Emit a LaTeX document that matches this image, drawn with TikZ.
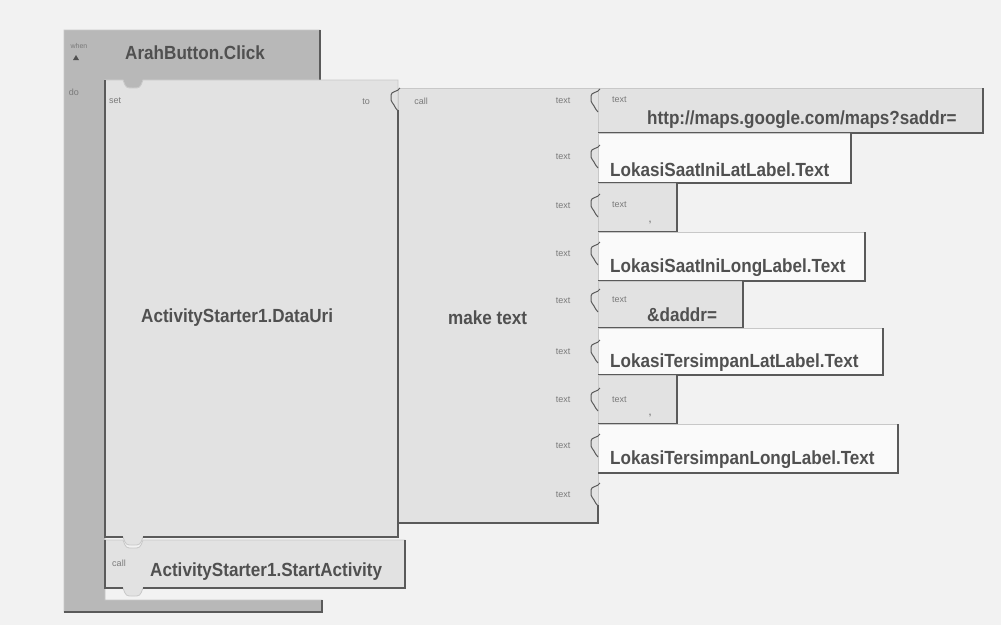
\documentclass[tikz,border=0pt]{standalone}
\usepackage{fontspec}
\setmainfont{Liberation Sans}
\newfontfamily\blockfont[FakeStretch=0.9]{Liberation Sans}
\usetikzlibrary{positioning}
\definecolor{bggray}{HTML}{F2F2F2}
\definecolor{evgray}{HTML}{B8B8B8}
\definecolor{blkgray}{HTML}{E2E2E2}
\definecolor{compwhite}{HTML}{FAFAFA}
\definecolor{edgedark}{HTML}{5A5A5A}
\definecolor{edgelight}{HTML}{C8C8C8}
\definecolor{txtgray}{HTML}{505050}
\definecolor{txtlight}{HTML}{7A7A7A}
\begin{document}
\begin{tikzpicture}[
    x=1pt, y=-1pt,
    every node/.style={inner sep=0pt},
    tiny/.style={font=\fontsize{9}{10}\selectfont, text=txtlight},
    big/.style={font=\blockfont\bfseries\fontsize{19}{20}\selectfont, text=txtgray, anchor=west},
    blk/.style={fill=blkgray, draw=edgelight, line width=0.8pt},
    comp/.style={fill=compwhite, draw=edgelight, line width=0.8pt},
    shadow/.style={draw=edgedark, line width=1.6pt},
    plug/.pic={\draw[edgedark, line width=1pt]
        (2,-12) .. controls (0,-8) and (-7,-9) .. (-7,-5) -- (-7,0)
        .. controls (-7,3) and (-4,3) .. (-4,5)
        .. controls (-4,8) and (-1,8) .. (0,11);},
]
\useasboundingbox (0,0) rectangle (1001,625);
\fill[bggray] (0,0) rectangle (1001,625);
% the event block round everything
\draw[fill=evgray, draw=edgelight, line width=0.8pt]
    (64,30) -- (320,30) -- (320,80) -- (143,80)
    .. controls (140,88) .. (133,88) .. controls (126,88) .. (123,80)
    -- (105,80) -- (105,600) -- (322,600) -- (322,612) -- (64,612) -- cycle;
\draw[shadow] (320,30) -- (320,80);
\draw[shadow] (64,612) -- (322,612) -- (322,600);
\node[tiny, font=\fontsize{7}{8}\selectfont] (when) at (79,46) {when};
\fill[txtgray] (73,60) -- (79,60) -- (76,55) -- cycle;
\node[big] (evt) at (125,53) {ArahButton.Click};
\node[tiny] (do) at (74,92) {do};
% the set block
\draw[blk] (105,80) -- (123,80) .. controls (126,88) .. (133,88)
    .. controls (140,88) .. (143,80) -- (398,80) -- (398,537)
    -- (143,537) .. controls (140,545) .. (133,545) .. controls (126,545) .. (123,537)
    -- (105,537) -- cycle;
\draw[shadow] (105,80) -- (105,537) -- (123,537);
\draw[shadow] (143,537) -- (398,537) -- (398,523);
\node[tiny, anchor=west] (set) at (109,101) {set};
\node[tiny] (to) at (366,102) {to};
\node[big] (uri) at (141,318) {ActivityStarter1.DataUri};
% the make text block
\draw[blk] (398,88) rectangle (598,523);
\draw[shadow] (398,110) -- (398,523) -- (598,523) -- (598,505);
\pic at (398,100) {plug};
\node[tiny] (mkcall) at (421,101) {call};
\node[big] (mk) at (448,318) {make text};
% the pieces plugged into make text
\foreach \ya/\yb/\xr/\sty in {88/133/983/blk, 133/183/851/comp, 183/232/677/blk,
    232/281/865/comp, 281/328/743/blk, 328/375/883/comp, 375/424/677/blk,
    424/473/898/comp} {
  \draw[\sty] (598,\ya) rectangle (\xr,\yb);
  \draw[shadow] (598,\yb) -- (\xr,\yb) -- (\xr,\ya);
}
\foreach \y [count=\i] in {101,157,206,254,301,352,400,446,495} {
  \node[tiny] (sock\i) at (563,\y) {text};
  \pic at (598,\y) {plug};
}
\foreach \y/\nm in {100/a, 205/b, 300/c, 400/d}
  \node[tiny, anchor=west] (txt\nm) at (612,\y) {text};
\node[tiny, font=\bfseries\fontsize{9}{10}\selectfont] (commaa) at (650,223) {,};
\node[tiny, font=\bfseries\fontsize{9}{10}\selectfont] (commab) at (650,416) {,};
\node[big] (url) at (647,120) {http://maps.google.com/maps?saddr=};
\node[big] (lat1) at (610,170) {LokasiSaatIniLatLabel.Text};
\node[big] (long1) at (610,268) {LokasiSaatIniLongLabel.Text};
\node[big] (daddr) at (647,315) {\&daddr=};
\node[big] (lat2) at (610,363) {LokasiTersimpanLatLabel.Text};
\node[big] (long2) at (610,460) {LokasiTersimpanLongLabel.Text};
% the call block below set
\draw[blk] (105,540) -- (123,540) .. controls (126,548) .. (133,548)
    .. controls (140,548) .. (143,540) -- (405,540) -- (405,588)
    -- (143,588) .. controls (140,596) .. (133,596) .. controls (126,596) .. (123,588)
    -- (105,588) -- cycle;
\draw[shadow] (105,540) -- (105,588) -- (123,588);
\draw[shadow] (143,588) -- (405,588) -- (405,540);
\node[tiny] (call) at (119,563) {call};
\node[big] (start) at (150,572) {ActivityStarter1.StartActivity};
\end{tikzpicture}
\end{document}
